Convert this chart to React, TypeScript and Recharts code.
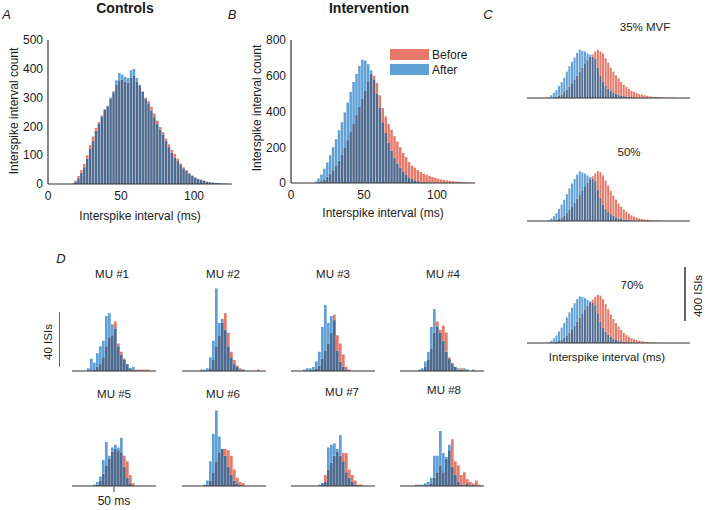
import { BarChart, Bar, XAxis, YAxis, Cell } from 'recharts'

// ISI histogram bins (left edge, ms) for panels A-C
const ISI_BINS = [
  0, 2, 4, 6, 8, 10, 12, 14, 16, 18, 20, 22, 24, 26, 28, 30, 32, 34, 36, 38,
  40, 42, 44, 46, 48, 50, 52, 54, 56, 58, 60, 62, 64, 66, 68, 70, 72, 74, 76, 78,
  80, 82, 84, 86, 88, 90, 92, 94, 96, 98, 100, 102, 104, 106, 108, 110, 112, 114, 116, 118,
  120, 122, 124,
]

// A – controls
const A_BEFORE = [0, 0, 0, 0, 0, 0, 0,
  0, 2, 12, 28, 48, 70, 100, 135, 165, 195,
  215, 238, 260, 270, 295, 318, 345, 360, 362, 355,
  352, 370, 375, 355, 340, 322, 300, 288, 268, 245,
  220, 198, 180, 158, 138, 118, 105, 88, 72, 58,
  48, 38, 30, 23, 18, 15, 12, 9, 7, 5,
  4, 3, 2, 1, 1, 0]
const A_AFTER = [0, 0, 0, 0, 0, 0, 0,
  0, 1, 8, 20, 38, 58, 88, 122, 150, 185,
  210, 235, 258, 272, 300, 322, 360, 385, 380, 372,
  368, 395, 400, 368, 345, 320, 295, 280, 255, 232,
  208, 188, 172, 150, 128, 108, 92, 80, 66, 55,
  45, 36, 28, 22, 17, 14, 11, 8, 6, 5,
  4, 3, 2, 1, 1, 0]

// B – intervention
const B_BEFORE = [0, 0, 0, 0, 0, 0, 0,
  0, 2, 5, 10, 20, 35, 52, 72, 95, 125,
  160, 200, 240, 285, 330, 380, 425, 470, 515, 565,
  612, 600, 560, 490, 420, 372, 330, 298, 262, 232,
  200, 168, 145, 118, 98, 86, 72, 62, 52, 46,
  40, 34, 29, 24, 20, 17, 14, 12, 10, 8,
  7, 5, 4, 3, 2, 1]
const B_AFTER = [0, 0, 0, 0, 0, 0, 0,
  0, 8, 25, 48, 80, 115, 155, 200, 245, 295,
  340, 395, 450, 510, 565, 610, 655, 690, 685, 665,
  630, 580, 500, 420, 340, 280, 225, 180, 140, 110,
  85, 62, 45, 32, 22, 15, 10, 7, 5, 4,
  3, 2, 2, 1, 1, 1, 1]

// C – intervention by contraction level
const C35_BEFORE = [0, 0, 0, 0, 0, 0, 0,
  0, 0, 2, 5, 10, 18, 28, 45, 62, 85,
  110, 135, 165, 195, 225, 252, 280, 305, 322, 345,
  358, 345, 330, 295, 262, 225, 195, 168, 145, 118,
  98, 82, 68, 55, 45, 38, 30, 25, 20, 16,
  13, 10, 8, 7, 6, 5, 4, 3, 2, 2,
  1]
const C35_AFTER = [0, 0, 0, 0, 0, 0, 0,
  0, 8, 20, 38, 58, 88, 118, 150, 195, 235,
  268, 300, 335, 358, 350, 345, 330, 320, 305, 290,
  225, 165, 118, 90, 70, 55, 42, 32, 25, 18,
  14, 11, 8, 6, 5, 4, 3, 2, 2, 1,
  1, 1]
const C50_BEFORE = [0, 0, 0, 0, 0, 0, 0,
  0, 0, 2, 4, 9, 16, 26, 42, 60, 82,
  108, 135, 165, 198, 228, 258, 285, 310, 332, 352,
  370, 362, 338, 300, 262, 222, 188, 158, 130, 105,
  85, 68, 54, 42, 33, 26, 20, 16, 12, 9,
  7, 5, 4, 3, 2, 1, 1]
const C50_AFTER = [0, 0, 0, 0, 0, 0, 0,
  0, 6, 18, 36, 58, 90, 122, 158, 200, 242,
  278, 312, 345, 368, 360, 352, 338, 325, 312, 295,
  232, 170, 120, 88, 66, 50, 38, 28, 21, 15,
  11, 8, 6, 4, 3, 2, 2, 1, 1]
const C70_BEFORE = [0, 0, 0, 0, 0, 0, 0,
  0, 0, 2, 4, 8, 15, 25, 40, 57, 78,
  102, 128, 158, 190, 220, 250, 278, 302, 322, 342,
  358, 350, 325, 288, 250, 212, 178, 148, 120, 96,
  76, 60, 47, 36, 28, 22, 17, 13, 10, 7,
  5, 4, 3, 2, 1, 1]
const C70_AFTER = [0, 0, 0, 0, 0, 0, 0,
  0, 6, 16, 34, 55, 85, 115, 150, 190, 228,
  262, 295, 325, 346, 340, 332, 320, 308, 296, 280,
  220, 160, 112, 82, 60, 46, 34, 25, 18, 13,
  10, 7, 5, 4, 3, 2, 1, 1]

// D – single motor units (3 ms bins)
const MU_BINS = [8, 11, 14, 17, 20, 23, 26, 29, 32, 35, 38, 41, 44, 47, 50, 53, 56, 59, 62, 65, 68, 71, 74, 77, 80, 83, 86, 89]
const MU1_BEFORE = [0, 0, 0, 0, 0, 0, 0, 1, 3, 5, 10, 18, 24, 26, 36, 20, 14, 9, 5, 2, 1, 1, 1, 1, 1, 1, 0, 0]
const MU1_AFTER = [0, 0, 0, 0, 0, 2, 9, 6, 13, 18, 22, 40, 42, 34, 31, 18, 12, 8, 5, 2, 3, 0, 0, 0, 0, 0, 0, 0]
const MU2_BEFORE = [0, 0, 0, 0, 0, 0, 0, 0, 0, 2, 8, 18, 26, 35, 42, 28, 14, 8, 4, 2, 1, 0, 0, 0, 0, 1, 0, 0]
const MU2_AFTER = [0, 0, 0, 0, 0, 0, 1, 1, 2, 10, 22, 60, 35, 38, 30, 18, 10, 5, 3, 1, 1, 0, 0, 0, 0, 0, 0, 0]
const MU3_BEFORE = [0, 0, 0, 0, 0, 0, 1, 1, 2, 4, 9, 15, 20, 28, 41, 26, 20, 12, 3, 1, 0, 0, 0, 0, 0, 0, 0, 0]
const MU3_AFTER = [0, 0, 0, 0, 1, 2, 2, 3, 7, 14, 32, 48, 35, 40, 37, 15, 7, 3, 1, 0, 0, 0, 0, 0, 0, 0, 0, 0]
const MU4_BEFORE = [0, 0, 0, 0, 0, 0, 0, 0, 3, 8, 16, 28, 36, 30, 33, 28, 10, 6, 3, 1, 2, 1, 1, 0, 0, 0, 0, 0]
const MU4_AFTER = [0, 0, 0, 0, 0, 0, 1, 2, 7, 14, 32, 45, 32, 28, 22, 14, 9, 5, 3, 2, 1, 2, 1, 0, 1, 0, 0, 0]
const MU5_BEFORE = [0, 0, 0, 0, 0, 0, 0, 0, 1, 4, 9, 15, 20, 25, 27, 26, 24, 22, 18, 8, 2, 0, 0, 0, 0, 0, 0, 0]
const MU5_AFTER = [0, 0, 0, 0, 0, 0, 0, 1, 3, 7, 19, 32, 22, 28, 30, 28, 35, 14, 6, 2, 0, 0, 0, 0, 0, 0, 0, 0]
const MU6_BEFORE = [0, 0, 0, 0, 0, 0, 0, 0, 1, 4, 10, 18, 24, 27, 27, 26, 22, 12, 6, 3, 2, 0, 0, 0, 0, 0, 0, 0]
const MU6_AFTER = [0, 0, 0, 0, 0, 0, 0, 1, 4, 18, 38, 55, 36, 27, 22, 14, 8, 4, 2, 1, 0, 0, 0, 0, 0, 0, 0, 0]
const MU7_BEFORE = [0, 0, 0, 0, 0, 0, 0, 0, 0, 0, 2, 8, 12, 17, 22, 25, 22, 24, 24, 12, 8, 4, 1, 1, 0, 0, 0, 0]
const MU7_AFTER = [0, 0, 0, 0, 0, 0, 0, 0, 0, 1, 2, 3, 28, 30, 31, 27, 37, 18, 10, 6, 3, 1, 0, 0, 0, 0, 0, 0]
const MU8_BEFORE = [0, 0, 0, 0, 0, 1, 0, 0, 0, 0, 2, 6, 10, 15, 10, 20, 26, 34, 18, 15, 8, 10, 5, 3, 2, 4, 1, 0]
const MU8_AFTER = [0, 0, 0, 0, 0, 0, 1, 1, 2, 3, 6, 22, 22, 40, 24, 21, 30, 14, 8, 3, 1, 0, 2, 0, 1, 0, 0, 0]

const RED = '#e6796a'
const BLUE = '#5fa0d6'
const DARK = '#4e6a8e'
const INK = '#1a1a1a'
const AXIS = '#333'
const FONT = '"Liberation Sans", Arial, Helvetica, sans-serif'

// overlap drawn dark, whatever sticks out on top in the colour of the taller series
function buildRows(bins: number[], before: number[], after: number[]) {
  return bins.map((bin, i) => {
    const r = before[i] ?? 0
    const b = after[i] ?? 0
    return { bin, both: Math.min(r, b), extra: Math.abs(r - b), redOnTop: r > b }
  })
}

interface HistProps {
  bins: number[]
  before: number[]
  after: number[]
  x: number
  y: number
  w: number
  h: number
  yMax: number
  xDomain: [number, number]
  barSize: number
  yTicks?: number[]
  xTicks?: number[]
  tickText?: (v: number) => string
  tickMark?: boolean
}

function Hist({ bins, before, after, x, y, w, h, yMax, xDomain, barSize, yTicks, xTicks, tickText, tickMark }: HistProps) {
  const rows = buildRows(bins, before, after)
  const padL = yTicks ? 48 : 0
  const padB = xTicks ? 28 : 3
  const padT = 10
  const padR = 6
  return (
    <div style={{ position: 'absolute', left: x - padL, top: y - padT }}>
      <BarChart
        width={w + padL + padR}
        height={h + padT + padB}
        data={rows}
        barCategoryGap={0}
        margin={{ top: padT, right: padR, left: yTicks ? padL - 40 : 0, bottom: xTicks ? padB - 24 : 1 }}
      >
        <XAxis xAxisId="num" dataKey="bin" type="number" domain={xDomain} allowDataOverflow
          ticks={xTicks}
          tick={xTicks ? { fontSize: 12, fill: INK, fontFamily: FONT } : false}
          tickFormatter={tickText}
          tickLine={tickMark ? { stroke: '#777', strokeWidth: 1.5 } : false}
          tickSize={tickMark ? 6 : 5}
          tickMargin={tickMark ? 4 : 2}
          axisLine={{ stroke: AXIS, strokeWidth: 1.2 }}
          height={xTicks ? 24 : 2}
        />
        <XAxis xAxisId="cat" dataKey="bin" type="category" hide height={0} />
        <YAxis
          domain={[0, yMax]}
          allowDataOverflow
          hide={!yTicks}
          ticks={yTicks}
          width={40}
          tick={{ fontSize: 12, fill: INK, fontFamily: FONT }}
          tickLine={false}
          tickSize={3}
          tickMargin={2}
          axisLine={{ stroke: AXIS, strokeWidth: 1.2 }}
        />
        <Bar xAxisId="cat" dataKey="both" stackId="s" fill={DARK} barSize={barSize} isAnimationActive={false} />
        <Bar xAxisId="cat" dataKey="extra" stackId="s" barSize={barSize} isAnimationActive={false}>
          {rows.map((r, i) => (
            <Cell key={i} fill={r.redOnTop ? RED : BLUE} />
          ))}
        </Bar>
      </BarChart>
    </div>
  )
}

interface TxtProps {
  x: number
  y: number
  children: string
  size?: number
  bold?: boolean
  italic?: boolean
  rotate?: boolean
  left?: boolean
}

function Txt({ x, y, children, size = 12, bold, italic, rotate, left }: TxtProps) {
  return (
    <div
      style={{
        position: 'absolute',
        left: x,
        top: y,
        transform: `translate(${left ? '0' : '-50%'}, -50%)${rotate ? ' rotate(-90deg)' : ''}`,
        fontFamily: FONT,
        fontSize: size,
        lineHeight: `${size}px`,
        fontWeight: bold ? 700 : 400,
        fontStyle: italic ? 'italic' : 'normal',
        color: INK,
        whiteSpace: 'nowrap',
      }}
    >
      {children}
    </div>
  )
}

const muPanels = [
  { name: 'MU #1', before: MU1_BEFORE, after: MU1_AFTER, x: 72, y: 283, tx: 112, ty: 275 },
  { name: 'MU #2', before: MU2_BEFORE, after: MU2_AFTER, x: 182, y: 283, tx: 223, ty: 275 },
  { name: 'MU #3', before: MU3_BEFORE, after: MU3_AFTER, x: 291, y: 283, tx: 333, ty: 275 },
  { name: 'MU #4', before: MU4_BEFORE, after: MU4_AFTER, x: 400, y: 283, tx: 443, ty: 275 },
  { name: 'MU #5', before: MU5_BEFORE, after: MU5_AFTER, x: 72, y: 398, tx: 114, ty: 395 },
  { name: 'MU #6', before: MU6_BEFORE, after: MU6_AFTER, x: 182, y: 398, tx: 223, ty: 395 },
  { name: 'MU #7', before: MU7_BEFORE, after: MU7_AFTER, x: 291, y: 398, tx: 342, ty: 393 },
  { name: 'MU #8', before: MU8_BEFORE, after: MU8_AFTER, x: 400, y: 398, tx: 444, ty: 391 },
]

const cPanels = [
  { name: '35% MVF', before: C35_BEFORE, after: C35_AFTER, y: 44, tx: 645, ty: 28 },
  { name: '50%', before: C50_BEFORE, after: C50_AFTER, y: 167, tx: 629, ty: 153 },
  { name: '70%', before: C70_BEFORE, after: C70_AFTER, y: 289, tx: 632, ty: 286 },
]

export default function App() {
  return (
    <div style={{ position: 'fixed', left: 0, top: 0, width: 705, height: 510, background: '#fff', overflow: 'hidden' }}>
      {/* A */}
      <Hist bins={ISI_BINS} before={A_BEFORE} after={A_AFTER} x={48} y={40} w={184} h={144} yMax={500}
        xDomain={[0, 126]} barSize={2.5} yTicks={[0, 100, 200, 300, 400, 500]} xTicks={[0, 50, 100]} />
      {/* B */}
      <Hist bins={ISI_BINS} before={B_BEFORE} after={B_AFTER} x={291} y={40} w={184} h={143} yMax={800}
        xDomain={[0, 126]} barSize={2.5} yTicks={[0, 200, 400, 600, 800]} xTicks={[0, 50, 100]} />
      {/* C */}
      {cPanels.map(p => (
        <Hist key={p.name} bins={ISI_BINS} before={p.before} after={p.after} x={527} y={p.y} w={163} h={54}
          yMax={400} xDomain={[0, 126]} barSize={2} />
      ))}
      {/* D */}
      {muPanels.map((p, i) => (
        <Hist key={p.name} bins={MU_BINS} before={p.before} after={p.after} x={p.x} y={p.y} w={84} h={88}
          yMax={64} xDomain={[8, 92]} barSize={3}
          xTicks={i === 4 ? [50] : undefined} tickText={() => '50 ms'} tickMark={i === 4} />
      ))}

      <Txt x={6.5} y={14} size={13} italic>A</Txt>
      <Txt x={232} y={14} size={13} italic>B</Txt>
      <Txt x={488} y={14} size={13} italic>C</Txt>
      <Txt x={61} y={258} size={13} italic>D</Txt>

      <Txt x={125} y={7.5} size={14} bold>Controls</Txt>
      <Txt x={369} y={7.5} size={14} bold>Intervention</Txt>

      <Txt x={14} y={111} rotate>Interspike interval count</Txt>
      <Txt x={257} y={108} rotate>Interspike interval count</Txt>
      <Txt x={140} y={216}>Interspike interval (ms)</Txt>
      <Txt x={383} y={213}>Interspike interval (ms)</Txt>

      {/* legend */}
      <div style={{ position: 'absolute', left: 390, top: 49, width: 39, height: 11, background: RED }} />
      <div style={{ position: 'absolute', left: 390, top: 64, width: 39, height: 11, background: BLUE }} />
      <Txt x={432} y={55} left>Before</Txt>
      <Txt x={432} y={70} left>After</Txt>

      {cPanels.map(p => (
        <Txt key={p.name} x={p.tx} y={p.ty} size={11.5}>{p.name}</Txt>
      ))}
      <Txt x={607} y={358} size={11.5}>Interspike interval (ms)</Txt>
      <div style={{ position: 'absolute', left: 684, top: 267, width: 1.5, height: 54, background: '#666' }} />
      <Txt x={699} y={296} size={11.5} rotate>400 ISIs</Txt>

      {muPanels.map(p => (
        <Txt key={p.name} x={p.tx} y={p.ty} size={11.5}>{p.name}</Txt>
      ))}
      <div style={{ position: 'absolute', left: 58.5, top: 312, width: 1.5, height: 55, background: '#666' }} />
      <Txt x={49} y={342} size={11.5} rotate>40 ISIs</Txt>
    </div>
  )
}
